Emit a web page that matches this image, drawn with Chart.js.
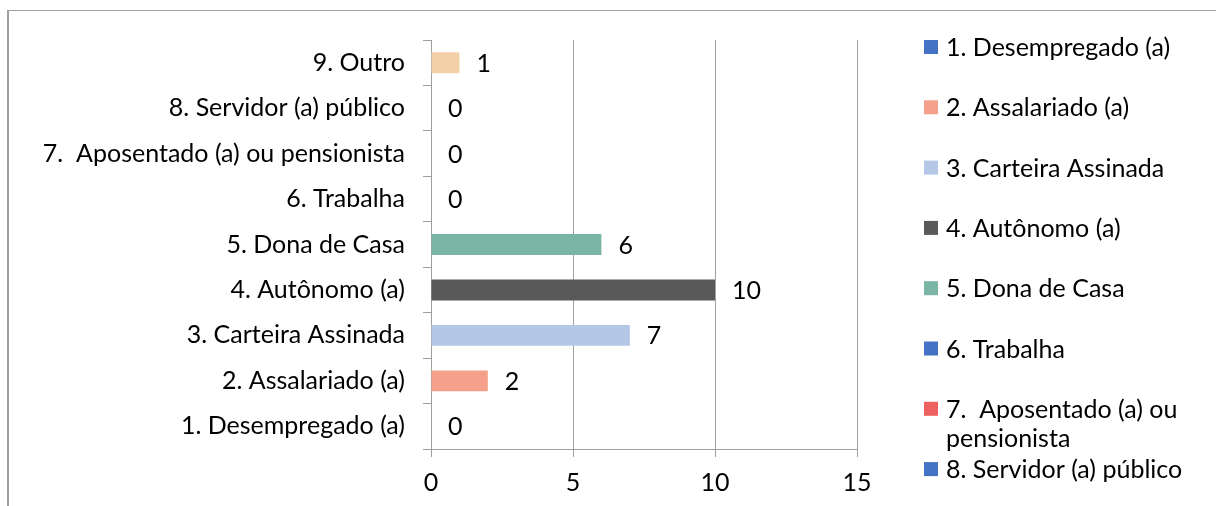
<!DOCTYPE html>
<html>
<head>
<meta charset="utf-8">
<script src="https://cdn.jsdelivr.net/npm/chart.js@4.4.1/dist/chart.umd.min.js"></script>
<style>
  body { margin: 0; background: #fff; }
  #wrap { position: relative; width: 1216px; height: 506px; overflow: hidden; }
  #frame { position: absolute; left: 7px; top: 10px; width: 1300px; height: 600px;
           border-left: 2px solid #a0a0a0; border-top: 1px solid #a0a0a0; }
</style>
</head>
<body>
<div id="wrap">
  <div id="frame"></div>
  <canvas id="chartOcupacao"></canvas>
</div>
<script>
// Categories (bottom to top on the chart)
var categories = [
  '1. Desempregado (a)',
  '2. Assalariado (a)',
  '3. Carteira Assinada',
  '4. Autônomo (a)',
  '5. Dona de Casa',
  '6. Trabalha',
  '7.  Aposentado (a) ou pensionista',
  '8. Servidor (a) público',
  '9. Outro'
];
var counts = [0, 2, 7, 10, 6, 0, 0, 0, 1];
var barColors = ['#4472C4', '#F4A08A', '#B4C7E7', '#595959', '#7AB5A5', '#4472C4', '#EE6161', '#4472C4', '#F3D0A6'];
var xTicks = [0, 5, 10, 15];

var FONT = 'Lato';
var FSIZE = 25;
var gridColor = '#a0a0a0';

// Value labels at the end of each bar
var valueLabels = {
  id: 'valueLabels',
  afterDatasetsDraw: function (chart) {
    var ctx = chart.ctx;
    var meta = chart.getDatasetMeta(0);
    ctx.save();
    ctx.font = FSIZE + 'px ' + FONT;
    ctx.fillStyle = '#000';
    ctx.textAlign = 'left';
    ctx.textBaseline = 'middle';
    meta.data.forEach(function (bar, i) {
      ctx.fillText(String(counts[i]), bar.x + 17, bar.y + 1);
    });
    ctx.restore();
  }
};

// Legend on the right, one entry per category, long ones wrap
var sideLegend = {
  id: 'sideLegend',
  afterDraw: function (chart) {
    var ctx = chart.ctx;
    ctx.save();
    ctx.font = FSIZE + 'px ' + FONT;
    ctx.textBaseline = 'middle';
    ctx.textAlign = 'left';
    var x0 = 924, tx = 946, y = 47, step = 60.3, maxW = 245;
    categories.forEach(function (name, i) {
      var cy = y + i * step;
      ctx.fillStyle = barColors[i];
      ctx.fillRect(x0, cy - 7, 14, 14);
      ctx.fillStyle = '#000';
      // simple word wrap
      var words = name.split(' ');
      var line = '';
      var ly = cy + 1;
      for (var w = 0; w < words.length; w++) {
        var test = line === '' ? words[w] : line + ' ' + words[w];
        if (ctx.measureText(test).width > maxW && line !== '') {
          ctx.fillText(line, tx, ly);
          line = words[w];
          ly += 29;
        } else {
          line = test;
        }
      }
      ctx.fillText(line, tx, ly);
    });
    ctx.restore();
  }
};

var chart = new Chart(document.getElementById('chartOcupacao'), {
  type: 'bar',
  data: {
    labels: categories,
    datasets: [{
      data: counts,
      backgroundColor: barColors,
      borderWidth: 0,
      categoryPercentage: 1,
      barPercentage: 0.46
    }]
  },
  options: {
    indexAxis: 'y',
    responsive: true,
    maintainAspectRatio: false,
    animation: false,
    layout: { padding: { top: 40, right: 359, bottom: 0, left: 0 } },
    plugins: {
      legend: { display: false },
      tooltip: { enabled: false }
    },
    scales: {
      x: {
        min: 0,
        max: 15,
        afterBuildTicks: function (scale) {
          scale.ticks = xTicks.map(function (v) { return { value: v }; });
        },
        afterFit: function (scale) { scale.height = 57; },
        grid: { color: gridColor, lineWidth: 1, tickLength: 8 },
        border: { color: gridColor, width: 1 },
        ticks: { color: '#000', font: { family: FONT, size: FSIZE }, padding: 11 }
      },
      y: {
        reverse: true,
        afterFit: function (scale) { scale.width = 431; },
        grid: { color: gridColor, drawOnChartArea: false, tickLength: 8 },
        border: { color: gridColor, width: 1 },
        ticks: { color: '#000', font: { family: FONT, size: FSIZE }, padding: 18 }
      }
    }
  },
  plugins: [valueLabels, sideLegend]
});
</script>
</body>
</html>
